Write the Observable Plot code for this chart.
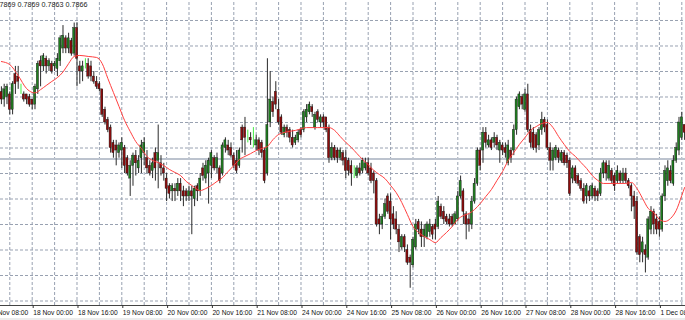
<!DOCTYPE html>
<html><head><meta charset="utf-8">
<script src="https://cdn.jsdelivr.net/npm/d3@7"></script>
<script src="https://cdn.jsdelivr.net/npm/@observablehq/plot@0.6"></script>
<style>
html,body{margin:0;padding:0;background:#fff;overflow:hidden;}
#wrap{position:relative;width:685px;height:320px;overflow:hidden;background:#fff;}
#strip{position:absolute;left:0;top:318px;width:685px;height:2px;background:#ececec;}
</style></head><body><div id="wrap"><div id="strip"></div></div>
<script>
// Hourly bars; bar 0 = 18 Nov 00:00 (weekend hours skipped)
const firstBar = -11;
const open = [
.7882,.7879,.7880,.7881,.7875,.7889,.7888,.7884,.7881,.7881,
.7880,.7879,.7877,.7883,.7894,.7892,.7895,.7892,.7893,.7892,
.7891,.7894,.7899,.7903,.7899,.7902,.7897,.7907,.7892,.7890,
.7893,.7893,.7892,.7888,.7886,.7885,.7883,.7875,.7871,.7868,
.7862,.7861,.7858,.7859,.7860,.7856,.7848,.7853,.7857,.7852,
.7856,.7858,.7856,.7853,.7851,.7858,.7855,.7854,.7852,.7848,
.7845,.7843,.7844,.7843,.7846,.7843,.7843,.7841,.7843,.7840,
.7845,.7843,.7852,.7848,.7850,.7853,.7856,.7852,.7852,.7850,
.7860,.7861,.7860,.7857,.7855,.7853,.7868,.7868,.7865,.7864,
.7864,.7861,.7863,.7862,.7859,.7850,.7870,.7878,.7882,.7875,
.7872,.7865,.7868,.7867,.7864,.7862,.7863,.7867,.7867,.7872,
.7874,.7876,.7868,.7874,.7870,.7872,.7872,.7868,.7856,.7860,
.7859,.7856,.7858,.7856,.7855,.7853,.7851,.7849,.7852,.7851,
.7852,.7854,.7852,.7850,.7847,.7832,.7830,.7833,.7841,.7839,
.7834,.7832,.7828,.7821,.7825,.7820,.7817,.7814,.7821,.7831,
.7828,.7825,.7825,.7827,.7829,.7830,.7829,.7837,.7835,.7833,
.7832,.7833,.7830,.7832,.7841,.7843,.7834,.7832,.7830,.7839,
.7846,.7859,.7859,.7866,.7861,.7863,.7862,.7864,.7859,.7861,
.7860,.7854,.7859,.7859,.7867,.7876,.7880,.7875,.7881,.7867,
.7866,.7865,.7861,.7867,.7871,.7869,.7860,.7855,.7856,.7859,
.7855,.7858,.7857,.7855,.7848,.7852,.7849,.7847,.7844,.7841,
.7843,.7841,.7844,.7843,.7842,.7850,.7854,.7848,.7851,.7849,
.7847,.7850,.7847,.7850,.7847,.7845,.7841,.7839,.7825,.7819,
.7820,.7817,.7828,.7835,.7832,.7831,.7828,.7841,.7847,.7851,
.7846,.7855,.7859,.7864,.7869];
const high = [
.7884,.7885,.7885,.7882,.7886,.7892,.7892,.7885,.7882,.7881,
.7881,.7879,.7885,.7894,.7896,.7897,.7896,.7895,.7894,.7894,
.7897,.7904,.7908,.7904,.7905,.7903,.7909,.7909,.7894,.7894,
.7895,.7895,.7894,.7890,.7888,.7886,.7883,.7876,.7872,.7869,
.7863,.7863,.7862,.7864,.7861,.7857,.7855,.7858,.7859,.7857,
.7863,.7864,.7859,.7855,.7856,.7860,.7869,.7857,.7854,.7850,
.7846,.7846,.7846,.7848,.7848,.7845,.7844,.7845,.7845,.7845,
.7846,.7850,.7854,.7855,.7856,.7859,.7857,.7858,.7853,.7862,
.7864,.7863,.7862,.7858,.7859,.7860,.7869,.7872,.7867,.7866,
.7868,.7865,.7864,.7863,.7860,.7895,.7890,.7880,.7886,.7879,
.7873,.7869,.7869,.7868,.7867,.7865,.7867,.7868,.7875,.7877,
.7878,.7877,.7874,.7875,.7873,.7873,.7872,.7869,.7862,.7861,
.7860,.7860,.7859,.7859,.7856,.7855,.7853,.7853,.7854,.7856,
.7856,.7856,.7854,.7851,.7848,.7834,.7834,.7840,.7842,.7842,
.7837,.7835,.7830,.7826,.7826,.7822,.7818,.7825,.7832,.7832,
.7831,.7830,.7831,.7832,.7830,.7832,.7841,.7838,.7837,.7834,
.7834,.7834,.7835,.7843,.7849,.7844,.7835,.7834,.7841,.7848,
.7860,.7860,.7868,.7868,.7865,.7864,.7866,.7865,.7863,.7862,
.7862,.7863,.7860,.7869,.7880,.7882,.7881,.7883,.7885,.7869,
.7868,.7866,.7868,.7874,.7872,.7871,.7862,.7860,.7861,.7860,
.7859,.7859,.7858,.7856,.7853,.7853,.7850,.7848,.7846,.7846,
.7845,.7846,.7845,.7844,.7852,.7855,.7855,.7855,.7852,.7850,
.7853,.7851,.7852,.7852,.7848,.7846,.7843,.7841,.7826,.7825,
.7822,.7833,.7837,.7836,.7834,.7833,.7842,.7853,.7855,.7853,
.7857,.7862,.7872,.7874,.7869];
const low = [
.7877,.7876,.7877,.7873,.7873,.7881,.7883,.7881,.7878,.7877,
.7876,.7875,.7875,.7881,.7884,.7890,.7889,.7890,.7889,.7890,
.7888,.7892,.7897,.7897,.7897,.7896,.7896,.7884,.7885,.7886,
.7891,.7887,.7886,.7885,.7883,.7882,.7872,.7869,.7866,.7858,
.7856,.7853,.7856,.7852,.7850,.7849,.7841,.7845,.7849,.7850,
.7850,.7853,.7850,.7849,.7848,.7847,.7844,.7849,.7847,.7839,
.7840,.7839,.7839,.7841,.7839,.7837,.7839,.7839,.7826,.7837,
.7839,.7841,.7847,.7846,.7838,.7848,.7851,.7850,.7846,.7849,
.7858,.7857,.7856,.7852,.7850,.7852,.7858,.7857,.7862,.7861,
.7860,.7859,.7857,.7856,.7846,.7849,.7868,.7872,.7875,.7869,
.7865,.7864,.7864,.7862,.7860,.7861,.7862,.7864,.7866,.7870,
.7873,.7872,.7867,.7870,.7868,.7868,.7866,.7854,.7855,.7855,
.7854,.7855,.7853,.7848,.7849,.7845,.7848,.7848,.7849,.7850,
.7851,.7849,.7846,.7842,.7829,.7826,.7828,.7832,.7834,.7824,
.7828,.7826,.7819,.7820,.7819,.7814,.7805,.7813,.7820,.7826,
.7821,.7821,.7824,.7825,.7824,.7824,.7828,.7832,.7830,.7830,
.7829,.7829,.7830,.7831,.7840,.7830,.7824,.7827,.7828,.7838,
.7845,.7851,.7854,.7860,.7860,.7859,.7860,.7859,.7854,.7857,
.7856,.7853,.7854,.7857,.7865,.7875,.7875,.7874,.7866,.7860,
.7859,.7858,.7859,.7865,.7866,.7859,.7851,.7851,.7855,.7854,
.7854,.7853,.7852,.7841,.7846,.7846,.7845,.7843,.7838,.7838,
.7839,.7840,.7839,.7839,.7841,.7848,.7847,.7847,.7846,.7843,
.7846,.7846,.7846,.7846,.7844,.7835,.7832,.7818,.7815,.7815,
.7811,.7816,.7826,.7826,.7826,.7825,.7827,.7839,.7845,.7846,
.7845,.7854,.7857,.7863,.7863];
const close = [
.7879,.7883,.7884,.7875,.7885,.7885,.7886,.7884,.7879,.7879,
.7877,.7877,.7884,.7893,.7892,.7896,.7892,.7894,.7890,.7893,
.7895,.7903,.7904,.7899,.7903,.7897,.7907,.7895,.7890,.7892,
.7893,.7888,.7888,.7886,.7884,.7883,.7873,.7870,.7867,.7860,
.7858,.7859,.7861,.7862,.7853,.7850,.7853,.7857,.7854,.7855,
.7861,.7862,.7852,.7850,.7854,.7852,.7858,.7852,.7850,.7844,
.7842,.7845,.7843,.7846,.7843,.7841,.7841,.7843,.7841,.7844,
.7843,.7848,.7849,.7853,.7855,.7858,.7852,.7856,.7847,.7861,
.7863,.7859,.7857,.7853,.7851,.7859,.7863,.7864,.7865,.7863,
.7864,.7863,.7859,.7858,.7847,.7869,.7879,.7874,.7877,.7870,
.7866,.7868,.7866,.7864,.7861,.7864,.7866,.7865,.7874,.7875,
.7877,.7874,.7873,.7871,.7872,.7870,.7867,.7856,.7860,.7856,
.7856,.7859,.7855,.7851,.7851,.7850,.7851,.7852,.7850,.7855,
.7854,.7850,.7847,.7847,.7830,.7830,.7833,.7838,.7835,.7832,
.7830,.7828,.7823,.7825,.7821,.7815,.7815,.7824,.7830,.7828,
.7825,.7828,.7830,.7830,.7826,.7828,.7839,.7833,.7832,.7831,
.7830,.7830,.7834,.7841,.7847,.7835,.7830,.7830,.7839,.7846,
.7859,.7853,.7866,.7862,.7863,.7860,.7864,.7861,.7862,.7859,
.7858,.7861,.7856,.7867,.7879,.7881,.7877,.7881,.7867,.7862,
.7860,.7860,.7867,.7871,.7868,.7860,.7855,.7859,.7860,.7856,
.7858,.7854,.7854,.7842,.7852,.7847,.7846,.7844,.7839,.7845,
.7841,.7845,.7841,.7841,.7850,.7854,.7850,.7853,.7847,.7845,
.7851,.7847,.7850,.7847,.7845,.7841,.7837,.7819,.7818,.7823,
.7818,.7832,.7835,.7830,.7828,.7828,.7841,.7851,.7852,.7847,
.7855,.7860,.7870,.7872,.7866];

// Moving average (bar, price)
const maBars = [-11,-8,-5,-2,0,1,3,5,7,9,11,13,15,17,20,23,25,27,29,31,33,35,37,39,41,43,45,47,49,51,53,55,57,59,60,62,64,66,68,70,72,74,76,78,80,82,84,86,88,90,94,98,102,106,108,110,112,114,116,118,120,122,124,126,128,130,132,134,136,138,140,142,144,146,148,150,152,154,156,158,160,162,164,166,168,170,172,174,176,178,180,182,184,186,188,190,192,194,196,198,200,202,204,208,212,214,216,218,220,222,224,226,228,230,232,233];
const maValues = [.78939,.78927,.78884,.78833,.78818,.78816,.78829,.78845,.78861,.78876,.78898,.78931,.78959,.78963,.78959,.78955,.78931,.78873,.78818,.78763,.78708,.78665,.78625,.78598,.78567,.78551,.78543,.78531,.78516,.78504,.78492,.78469,.78453,.78437,.78433,.78441,.78453,.78469,.78484,.78508,.78531,.78555,.78567,.78578,.7859,.78598,.78606,.78633,.78653,.78661,.78669,.7868,.7868,.7868,.78669,.78645,.78622,.78602,.78578,.78555,.78535,.78512,.78496,.7848,.78453,.78425,.78386,.78339,.78292,.78269,.78253,.78241,.78229,.78249,.78269,.78292,.7832,.78335,.78343,.78359,.78382,.7841,.78437,.78473,.78508,.78551,.78582,.78614,.78641,.78669,.78684,.78696,.787,.7868,.78645,.78614,.78586,.78567,.78543,.7852,.78492,.78473,.78461,.78461,.78461,.78465,.78441,.78402,.78363,.78347,.7832,.78312,.78324,.78355,.78414,.78445];

const tickLabels = ["17 Nov 08:00","18 Nov 00:00","18 Nov 16:00","19 Nov 08:00","20 Nov 00:00","20 Nov 16:00","21 Nov 08:00","24 Nov 00:00","24 Nov 16:00","25 Nov 08:00","26 Nov 00:00","26 Nov 16:00","27 Nov 08:00","28 Nov 00:00","28 Nov 16:00","1 Dec 08:00"];
const firstTickBar = -16, barsPerLabel = 16, barsPerGrid = 8;
const priceLevels = [0.780,0.781,0.782,0.783,0.784,0.785,0.786,0.787,0.788,0.789,0.790,0.791];
const hLinePrice = 0.78557;

const candles = open.map((o, k) => ({bar: firstBar + k, open: o, high: high[k], low: low[k], close: close[k]}));
const ma = maBars.map((b, k) => ({bar: b, value: maValues[k]}));
const tickBars = tickLabels.map((_, k) => firstTickBar + k * barsPerLabel);
const labelOf = new Map(tickBars.map((b, k) => [b, tickLabels[k]]));
const gridBars = d3.range(-8, 234, barsPerGrid);
const last = candles[candles.length - 1];
const header = [last.open, last.high, last.low, last.close].map(v => v.toFixed(4)).join(" ");

const yDomain = [0.779824, 0.791784];
const bull = "#1f7f1f", bear = "#8e0c0c", doji = "#44ee44";
const font = "'Liberation Sans', Arial, sans-serif";

const chart = Plot.plot({
  width: 685, height: 320,
  marginTop: 0, marginBottom: 15, marginLeft: 0, marginRight: 0,
  style: {background: "transparent", overflow: "hidden", fontFamily: font},
  x: {domain: [-11.32, 233.32], label: null},
  y: {domain: yDomain, axis: null, label: null},
  marks: [
    Plot.ruleX(gridBars, {y1: yDomain[0], y2: yDomain[1], stroke: "#98a1b1", strokeDasharray: "3,2", strokeWidth: 1}),
    Plot.ruleY(priceLevels, {stroke: "#98a1b1", strokeDasharray: "3,2", strokeWidth: 1}),
    Plot.ruleY([hLinePrice], {stroke: "#bcc3ce", strokeWidth: 2}),
    Plot.ruleX(candles, {x: "bar", y1: "low", y2: "high", strokeWidth: 1,
      stroke: d => d.open === d.close ? doji : "#2a2a2a"}),
    Plot.rect(candles.filter(d => d.open !== d.close), {
      x1: d => d.bar - 0.37, x2: d => d.bar + 0.37, y1: "open", y2: "close",
      fill: d => d.close > d.open ? bull : bear, stroke: "#111", strokeWidth: 0.4}),
    Plot.ruleX(candles.filter(d => d.open === d.close), {x1: d => d.bar - 0.37, x2: d => d.bar + 0.37, y: "open", stroke: doji}),
    Plot.line(ma, {x: "bar", y: "value", stroke: "#ff4040", strokeWidth: 1, curve: "monotone-x"}),
    Plot.ruleY([yDomain[0]], {stroke: "#444", strokeWidth: 1}),
    Plot.axisX(tickBars, {anchor: "bottom", label: null, tickSize: 3, tickPadding: 1.5, textAnchor: "start", dx: 1,
      tickFormat: d => labelOf.get(d), fontSize: 6.7, fontFamily: font, fill: "#111", stroke: "#333"}),
    Plot.text([header], {frameAnchor: "top-left", textAnchor: "start", lineAnchor: "top", dx: -7, dy: 1,
      fontSize: 7.2, fontFamily: font, fill: "#222"})
  ]
});
document.getElementById("wrap").prepend(chart);
</script>
</body></html>
